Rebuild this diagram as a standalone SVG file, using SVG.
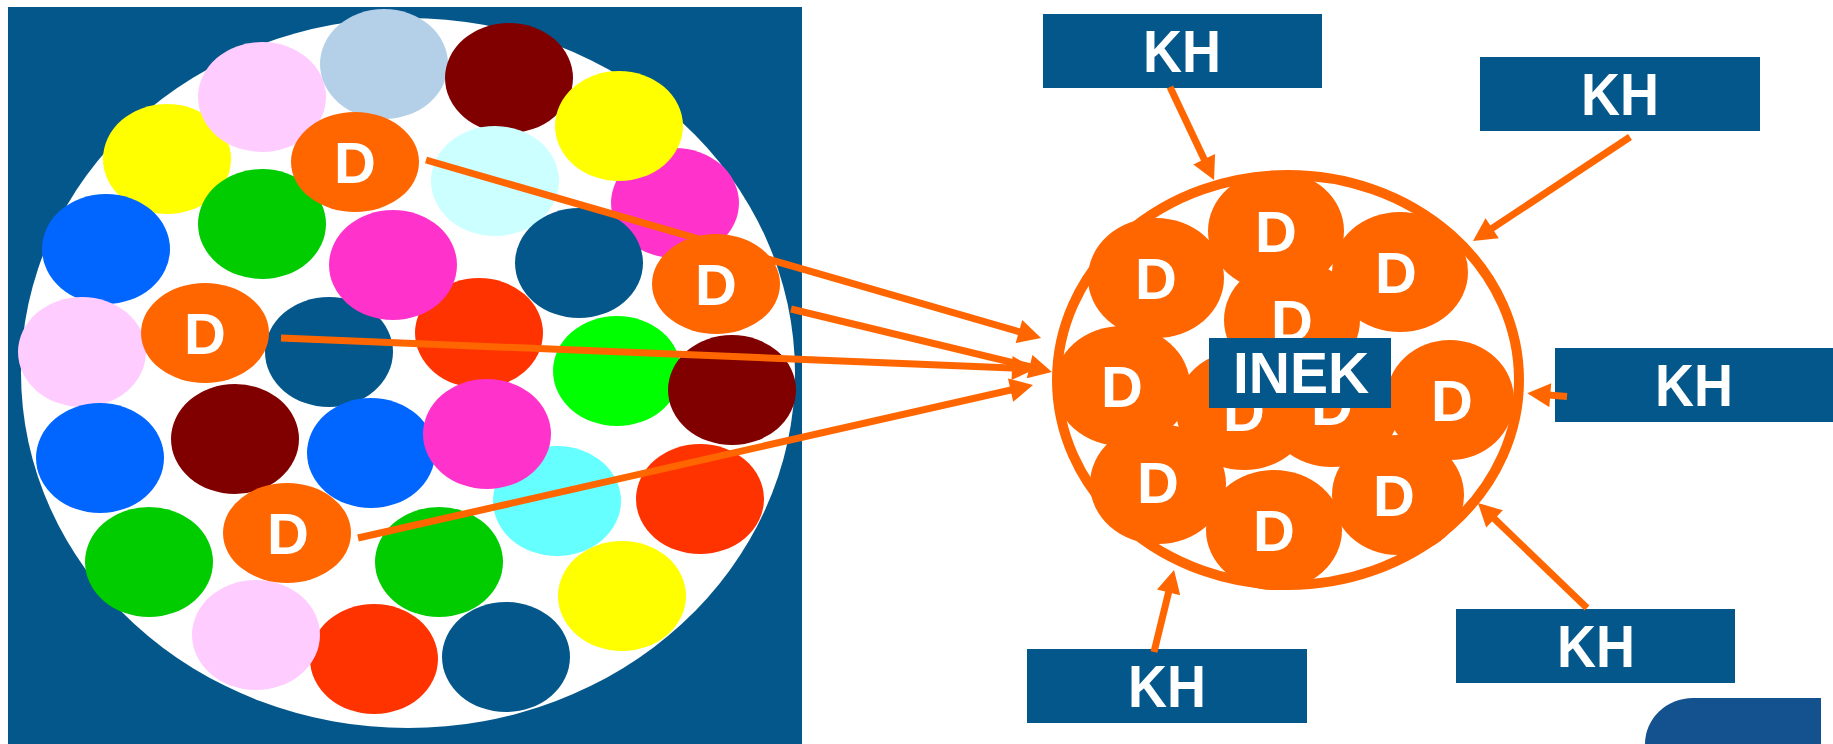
<svg xmlns="http://www.w3.org/2000/svg" width="1833" height="744" viewBox="0 0 1833 744">
  <style>
    .lbl { font-family: "Liberation Sans", Arial, sans-serif; font-weight: bold; fill: #fff; text-anchor: middle; }
    .d { font-size: 58px; }
    .kh { font-size: 59px; }
    .box { fill: #03578B; }
    .dblob { fill: #FF6600; }
    .arr { stroke: #FF6600; stroke-width: 7; fill: none; marker-end: url(#head); }
    .c-lb { fill: #B4D0E8; } .c-mr { fill: #800000; } .c-pk { fill: #FFCCFF; }
    .c-ye { fill: #FFFF00; } .c-lc { fill: #CCFFFF; } .c-mg { fill: #FF33CC; }
    .c-gr { fill: #00CC00; } .c-bl { fill: #0066FF; } .c-db { fill: #03578B; }
    .c-rd { fill: #FF3300; } .c-bg { fill: #00FF00; } .c-cy { fill: #66FFFF; }
  </style>
  <defs>
    <marker id="head" markerUnits="userSpaceOnUse" markerWidth="24" markerHeight="24" viewBox="0 0 23 24" refX="11" refY="12" orient="auto">
      <path d="M0,0 L23,12 L0,24 Z" fill="#FF6600"/>
    </marker>
  </defs>

  <rect width="1833" height="744" fill="#fff"/>

  <!-- left panel: pool of coloured items -->
  <g id="pool">
    <rect x="8" y="7" width="794" height="740" fill="#03578B"/>
    <ellipse cx="408" cy="373" rx="387" ry="355" fill="#fff"/>
    <ellipse class="c-ye" cx="167" cy="159" rx="64" ry="55"/>
    <ellipse class="c-pk" cx="262" cy="97" rx="64" ry="55"/>
    <ellipse class="c-lb" cx="384" cy="64" rx="64" ry="55"/>
    <ellipse class="c-mr" cx="509" cy="78" rx="64" ry="55"/>
    <ellipse class="c-mg" cx="675" cy="203" rx="64" ry="55"/>
    <ellipse class="c-ye" cx="619" cy="126" rx="64" ry="55"/>
    <ellipse class="c-lc" cx="495" cy="181" rx="64" ry="55"/>
    <ellipse class="c-db" cx="579" cy="263" rx="64" ry="55"/>
    <ellipse class="c-gr" cx="262" cy="224" rx="64" ry="55"/>
    <ellipse class="c-bl" cx="106" cy="249" rx="64" ry="55"/>
    <ellipse class="c-pk" cx="82" cy="352" rx="64" ry="55"/>
    <ellipse class="c-rd" cx="479" cy="333" rx="64" ry="55"/>
    <ellipse class="c-mr" cx="235" cy="439" rx="64" ry="55"/>
    <ellipse class="c-db" cx="329" cy="352" rx="64" ry="55"/>
    <ellipse class="c-mg" cx="393" cy="265" rx="64" ry="55"/>
    <ellipse class="c-bg" cx="617" cy="371" rx="64" ry="55"/>
    <ellipse class="c-mr" cx="732" cy="390" rx="64" ry="55"/>
    <ellipse class="c-bl" cx="100" cy="458" rx="64" ry="55"/>
    <ellipse class="c-bl" cx="371" cy="453" rx="64" ry="55"/>
    <ellipse class="c-cy" cx="557" cy="501" rx="64" ry="55"/>
    <ellipse class="c-mg" cx="487" cy="434" rx="64" ry="55"/>
    <ellipse class="c-rd" cx="700" cy="499" rx="64" ry="55"/>
    <ellipse class="c-gr" cx="149" cy="562" rx="64" ry="55"/>
    <ellipse class="c-gr" cx="439" cy="562" rx="64" ry="55"/>
    <ellipse class="c-rd" cx="374" cy="659" rx="64" ry="55"/>
    <ellipse class="c-pk" cx="256" cy="635" rx="64" ry="55"/>
    <ellipse class="c-db" cx="506" cy="657" rx="64" ry="55"/>
    <ellipse class="c-ye" cx="622" cy="596" rx="64" ry="55"/>
  </g>

  <g id="d-pool-1">
    <ellipse class="dblob" cx="355" cy="162" rx="64" ry="50"/>
    <text class="lbl d" x="355" y="183">D</text>
  </g>
  <g id="d-pool-2">
    <ellipse class="dblob" cx="205" cy="333" rx="64" ry="50"/>
    <text class="lbl d" x="205" y="354">D</text>
  </g>
  <g id="d-pool-4">
    <ellipse class="dblob" cx="287" cy="533" rx="64" ry="50"/>
    <text class="lbl d" x="288" y="554">D</text>
  </g>

  <!-- right: INEK cluster -->
  <g id="inek">
    <ellipse cx="1288" cy="380" rx="231" ry="205" fill="none" stroke="#FF6600" stroke-width="10"/>
    <g fill="#FF6600">
      <ellipse cx="1156" cy="278" rx="68" ry="60"/>
      <ellipse cx="1276" cy="231" rx="68" ry="60"/>
      <ellipse cx="1400" cy="272" rx="68" ry="60"/>
      <ellipse cx="1292" cy="320" rx="68" ry="60"/>
      <ellipse cx="1122" cy="386" rx="68" ry="60"/>
      <ellipse cx="1450" cy="400" rx="64" ry="60"/>
      <ellipse cx="1244" cy="410" rx="68" ry="60"/>
      <ellipse cx="1332" cy="407" rx="68" ry="60"/>
      <ellipse cx="1158" cy="484" rx="68" ry="60"/>
      <ellipse cx="1274" cy="530" rx="68" ry="60"/>
      <ellipse cx="1398" cy="495" rx="66" ry="60"/>
    </g>
    <text class="lbl d" x="1156" y="299">D</text>
    <text class="lbl d" x="1276" y="252">D</text>
    <text class="lbl d" x="1396" y="293">D</text>
    <text class="lbl d" x="1292" y="341">D</text>
    <text class="lbl d" x="1122" y="407">D</text>
    <text class="lbl d" x="1452" y="421">D</text>
    <text class="lbl d" x="1244" y="431">D</text>
    <text class="lbl d" x="1332" y="425">D</text>
    <text class="lbl d" x="1158" y="503">D</text>
    <text class="lbl d" x="1274" y="551">D</text>
    <text class="lbl d" x="1394" y="516">D</text>
    <rect class="box" x="1209" y="338" width="182" height="70"/>
    <text class="lbl" x="1301" y="393" font-size="57">INEK</text>
  </g>

  <!-- KH boxes -->
  <g id="kh-1">
    <rect class="box" x="1043" y="14" width="279" height="74"/>
    <text class="lbl kh" x="1182" y="72" textLength="78" lengthAdjust="spacingAndGlyphs">KH</text>
  </g>
  <g id="kh-2">
    <rect class="box" x="1480" y="57" width="280" height="74"/>
    <text class="lbl kh" x="1620" y="115" textLength="78" lengthAdjust="spacingAndGlyphs">KH</text>
  </g>
  <g id="kh-3">
    <rect class="box" x="1555" y="348" width="280" height="74"/>
    <text class="lbl kh" x="1694" y="406" textLength="78" lengthAdjust="spacingAndGlyphs">KH</text>
  </g>
  <g id="kh-4">
    <rect class="box" x="1456" y="609" width="279" height="74"/>
    <text class="lbl kh" x="1596" y="667" textLength="78" lengthAdjust="spacingAndGlyphs">KH</text>
  </g>
  <g id="kh-5">
    <rect class="box" x="1027" y="649" width="280" height="74"/>
    <text class="lbl kh" x="1167" y="707" textLength="78" lengthAdjust="spacingAndGlyphs">KH</text>
  </g>

  <!-- connectors -->
  <g id="connectors">
    <path class="arr" d="M426,160 L1029.5,334.7"/>
    <path class="arr" d="M791,309 L1040.3,369.2"/>
    <path class="arr" d="M281,338 L1023,368.5"/>
    <path class="arr" d="M358,538 L1021.3,387.7"/>
    <path class="arr" d="M1170,87 L1208.9,169.2"/>
    <path class="arr" d="M1630,137 L1483,234.4"/>
    <path class="arr" d="M1567,396.5 L1539.3,394.3"/>
    <path class="arr" d="M1587,608 L1486.6,511.3"/>
    <path class="arr" d="M1154,652 L1171.2,581.7"/>
  </g>

  <!-- pool item that sits over the first connector -->
  <g id="d-pool-3">
    <ellipse class="dblob" cx="716" cy="284" rx="64" ry="50"/>
    <text class="lbl d" x="716" y="305">D</text>
  </g>

  <!-- corner tab -->
  <g id="corner-tab">
    <path d="M1645,744 A48,46 0 0 1 1693,698 H1821 V744 Z" fill="#14518F"/>
  </g>
</svg>
